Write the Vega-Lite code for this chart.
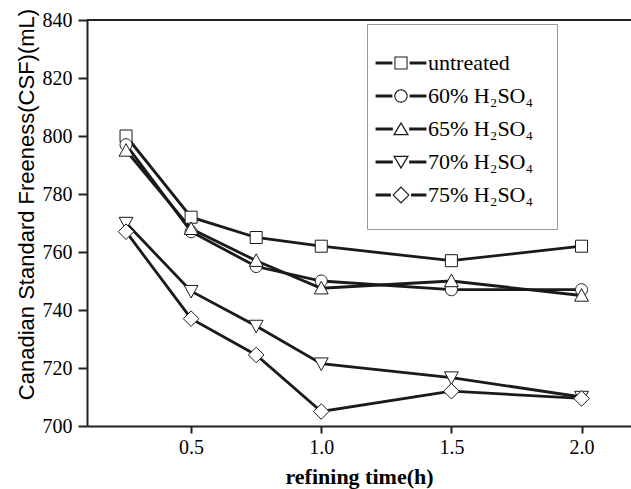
{
  "$schema": "https://vega.github.io/schema/vega-lite/v6.json",
  "width": 544,
  "height": 406,
  "autosize": "none",
  "padding": {"left": 87, "top": 20, "right": 0, "bottom": 63},
  "background": "white",
  "config": {"view": {"stroke": null}},
  "data": {
    "values": [
      {"t": 0.25, "csf": 800, "series": "untreated"},
      {"t": 0.5, "csf": 772, "series": "untreated"},
      {"t": 0.75, "csf": 765, "series": "untreated"},
      {"t": 1.0, "csf": 762, "series": "untreated"},
      {"t": 1.5, "csf": 757, "series": "untreated"},
      {"t": 2.0, "csf": 762, "series": "untreated"},
      {"t": 0.25, "csf": 797, "series": "60% H₂SO₄"},
      {"t": 0.5, "csf": 767, "series": "60% H₂SO₄"},
      {"t": 0.75, "csf": 755, "series": "60% H₂SO₄"},
      {"t": 1.0, "csf": 750, "series": "60% H₂SO₄"},
      {"t": 1.5, "csf": 747, "series": "60% H₂SO₄"},
      {"t": 2.0, "csf": 747, "series": "60% H₂SO₄"},
      {"t": 0.25, "csf": 795, "series": "65% H₂SO₄"},
      {"t": 0.5, "csf": 768, "series": "65% H₂SO₄"},
      {"t": 0.75, "csf": 757, "series": "65% H₂SO₄"},
      {"t": 1.0, "csf": 747.5, "series": "65% H₂SO₄"},
      {"t": 1.5, "csf": 750, "series": "65% H₂SO₄"},
      {"t": 2.0, "csf": 745, "series": "65% H₂SO₄"},
      {"t": 0.25, "csf": 770, "series": "70% H₂SO₄"},
      {"t": 0.5, "csf": 746.5, "series": "70% H₂SO₄"},
      {"t": 0.75, "csf": 734.5, "series": "70% H₂SO₄"},
      {"t": 1.0, "csf": 721.5, "series": "70% H₂SO₄"},
      {"t": 1.5, "csf": 716.7, "series": "70% H₂SO₄"},
      {"t": 2.0, "csf": 710, "series": "70% H₂SO₄"},
      {"t": 0.25, "csf": 767, "series": "75% H₂SO₄"},
      {"t": 0.5, "csf": 737, "series": "75% H₂SO₄"},
      {"t": 0.75, "csf": 724.5, "series": "75% H₂SO₄"},
      {"t": 1.0, "csf": 705, "series": "75% H₂SO₄"},
      {"t": 1.5, "csf": 712, "series": "75% H₂SO₄"},
      {"t": 2.0, "csf": 709.5, "series": "75% H₂SO₄"}
    ]
  },
  "resolve": {"scale": {"shape": "independent"}},
  "layer": [
    {
      "mark": {"type": "rule", "color": "#222", "strokeWidth": 2},
      "encoding": {"y": {"datum": 840, "type": "quantitative"}}
    },
    {
      "mark": {"type": "line", "color": "#1a1a1a", "strokeWidth": 2.8},
      "encoding": {
        "x": {
          "field": "t", "type": "quantitative",
          "scale": {"domain": [0.1, 2.19], "nice": false, "zero": false},
          "title": "refining time(h)",
          "axis": {
            "values": [0.5, 1, 1.5, 2], "format": ".1f", "grid": false,
            "domainColor": "#222", "domainWidth": 2,
            "tickColor": "#222", "tickWidth": 2, "tickSize": 7,
            "labelFont": "Liberation Serif", "labelFontSize": 20, "labelColor": "black", "labelPadding": 4,
            "titleFont": "Liberation Serif", "titleFontSize": 22, "titleFontWeight": "bold", "titleColor": "black",
            "titleY": 57, "titleBaseline": "alphabetic"
          }
        },
        "y": {
          "field": "csf", "type": "quantitative",
          "scale": {"domain": [700, 840], "nice": false, "zero": false},
          "title": "Canadian Standard Freeness(CSF)(mL)",
          "axis": {
            "values": [700, 710, 720, 730, 740, 750, 760, 770, 780, 790, 800, 810, 820, 830, 840],
            "labelExpr": "datum.value % 20 === 0 ? datum.label : ''",
            "grid": false,
            "domainColor": "#222", "domainWidth": 2,
            "tickColor": "#222", "tickWidth": 2,
            "tickSize": {"condition": {"test": "datum.value % 20 === 0", "value": 9}, "value": 5},
            "labelFont": "Liberation Serif", "labelFontSize": 20, "labelColor": "black", "labelPadding": 6,
            "titleFont": "Liberation Sans", "titleFontSize": 22, "titleFontWeight": "normal", "titleColor": "black",
            "titleX": -54, "titleY": 184, "titleBaseline": "alphabetic"
          }
        },
        "detail": {"field": "series"}
      }
    },
    {
      "mark": {"type": "point", "fill": "white", "stroke": "#1a1a1a", "strokeWidth": 1, "size": 144, "opacity": 1},
      "encoding": {
        "x": {"field": "t", "type": "quantitative"},
        "y": {"field": "csf", "type": "quantitative"},
        "shape": {
          "field": "series", "type": "nominal",
          "scale": {
            "domain": ["untreated", "60% H₂SO₄", "65% H₂SO₄", "70% H₂SO₄", "75% H₂SO₄"],
            "range": [
              "M-1,-1H1V1H-1Z",
              "M1,0A1,1 0 1,1 -1,0A1,1 0 1,1 1,0Z",
              "M0,-1.15L1.15,0.95L-1.15,0.95Z",
              "M0,1.15L1.15,-0.95L-1.15,-0.95Z",
              "M0,-1.3L1.3,0L0,1.3L-1.3,0Z"
            ]
          },
          "legend": null
        }
      }
    },
    {
      "transform": [{"filter": "datum.t > 100"}],
      "mark": {"type": "point", "filled": true, "color": "#1a1a1a", "size": 1024, "opacity": 1},
      "encoding": {
        "x": {"field": "t", "type": "quantitative"},
        "y": {"field": "csf", "type": "quantitative"},
        "shape": {
          "field": "series", "type": "nominal",
          "scale": {
            "domain": ["untreated", "60% H₂SO₄", "65% H₂SO₄", "70% H₂SO₄", "75% H₂SO₄"],
            "range": [
              "M-1.59,-0.1H-0.54V0.1H-1.59ZM0.54,-0.1H1.59V0.1H0.54ZM-0.41,-0.41H0.41V0.41H-0.41ZM-0.345,-0.345V0.345H0.345V-0.345Z",
              "M-1.59,-0.1H-0.54V0.1H-1.59ZM0.54,-0.1H1.59V0.1H0.54ZM0.42,0A0.42,0.42 0 1,0 -0.42,0A0.42,0.42 0 1,0 0.42,0ZM0.35,0A0.35,0.35 0 1,1 -0.35,0A0.35,0.35 0 1,1 0.35,0Z",
              "M-1.59,-0.1H-0.51V0.1H-1.59ZM0.51,-0.1H1.59V0.1H0.51ZM0,-0.46L0.5,0.39L-0.5,0.39ZM0,-0.3L-0.36,0.31L0.36,0.31Z",
              "M-1.59,-0.1H-0.51V0.1H-1.59ZM0.51,-0.1H1.59V0.1H0.51ZM0,0.46L-0.5,-0.39L0.5,-0.39ZM0,0.3L0.36,-0.31L-0.36,-0.31Z",
              "M-1.59,-0.1H-0.63V0.1H-1.59ZM0.63,-0.1H1.59V0.1H0.63ZM0,-0.54L0.54,0L0,0.54L-0.54,0ZM0,-0.44L-0.44,0L0,0.44L0.44,0Z"
            ]
          },
          "legend": {
            "orient": "none", "legendX": 280, "legendY": 4, "title": null,
            "padding": 23, "rowPadding": 6,
            "symbolSize": 1024, "symbolStrokeWidth": 0, "symbolOffset": -5,
            "symbolFillColor": "#1a1a1a", "symbolStrokeColor": "transparent", "symbolOpacity": 1,
            "labelOffset": 11, "labelFont": "Liberation Serif", "labelFontSize": 22, "labelColor": "black", "labelLimit": 300,
            "strokeColor": "#999", "fillColor": "white",
            "encode": {"legend": {"update": {"strokeWidth": {"value": 2}}}}
          }
        }
      }
    }
  ]
}
